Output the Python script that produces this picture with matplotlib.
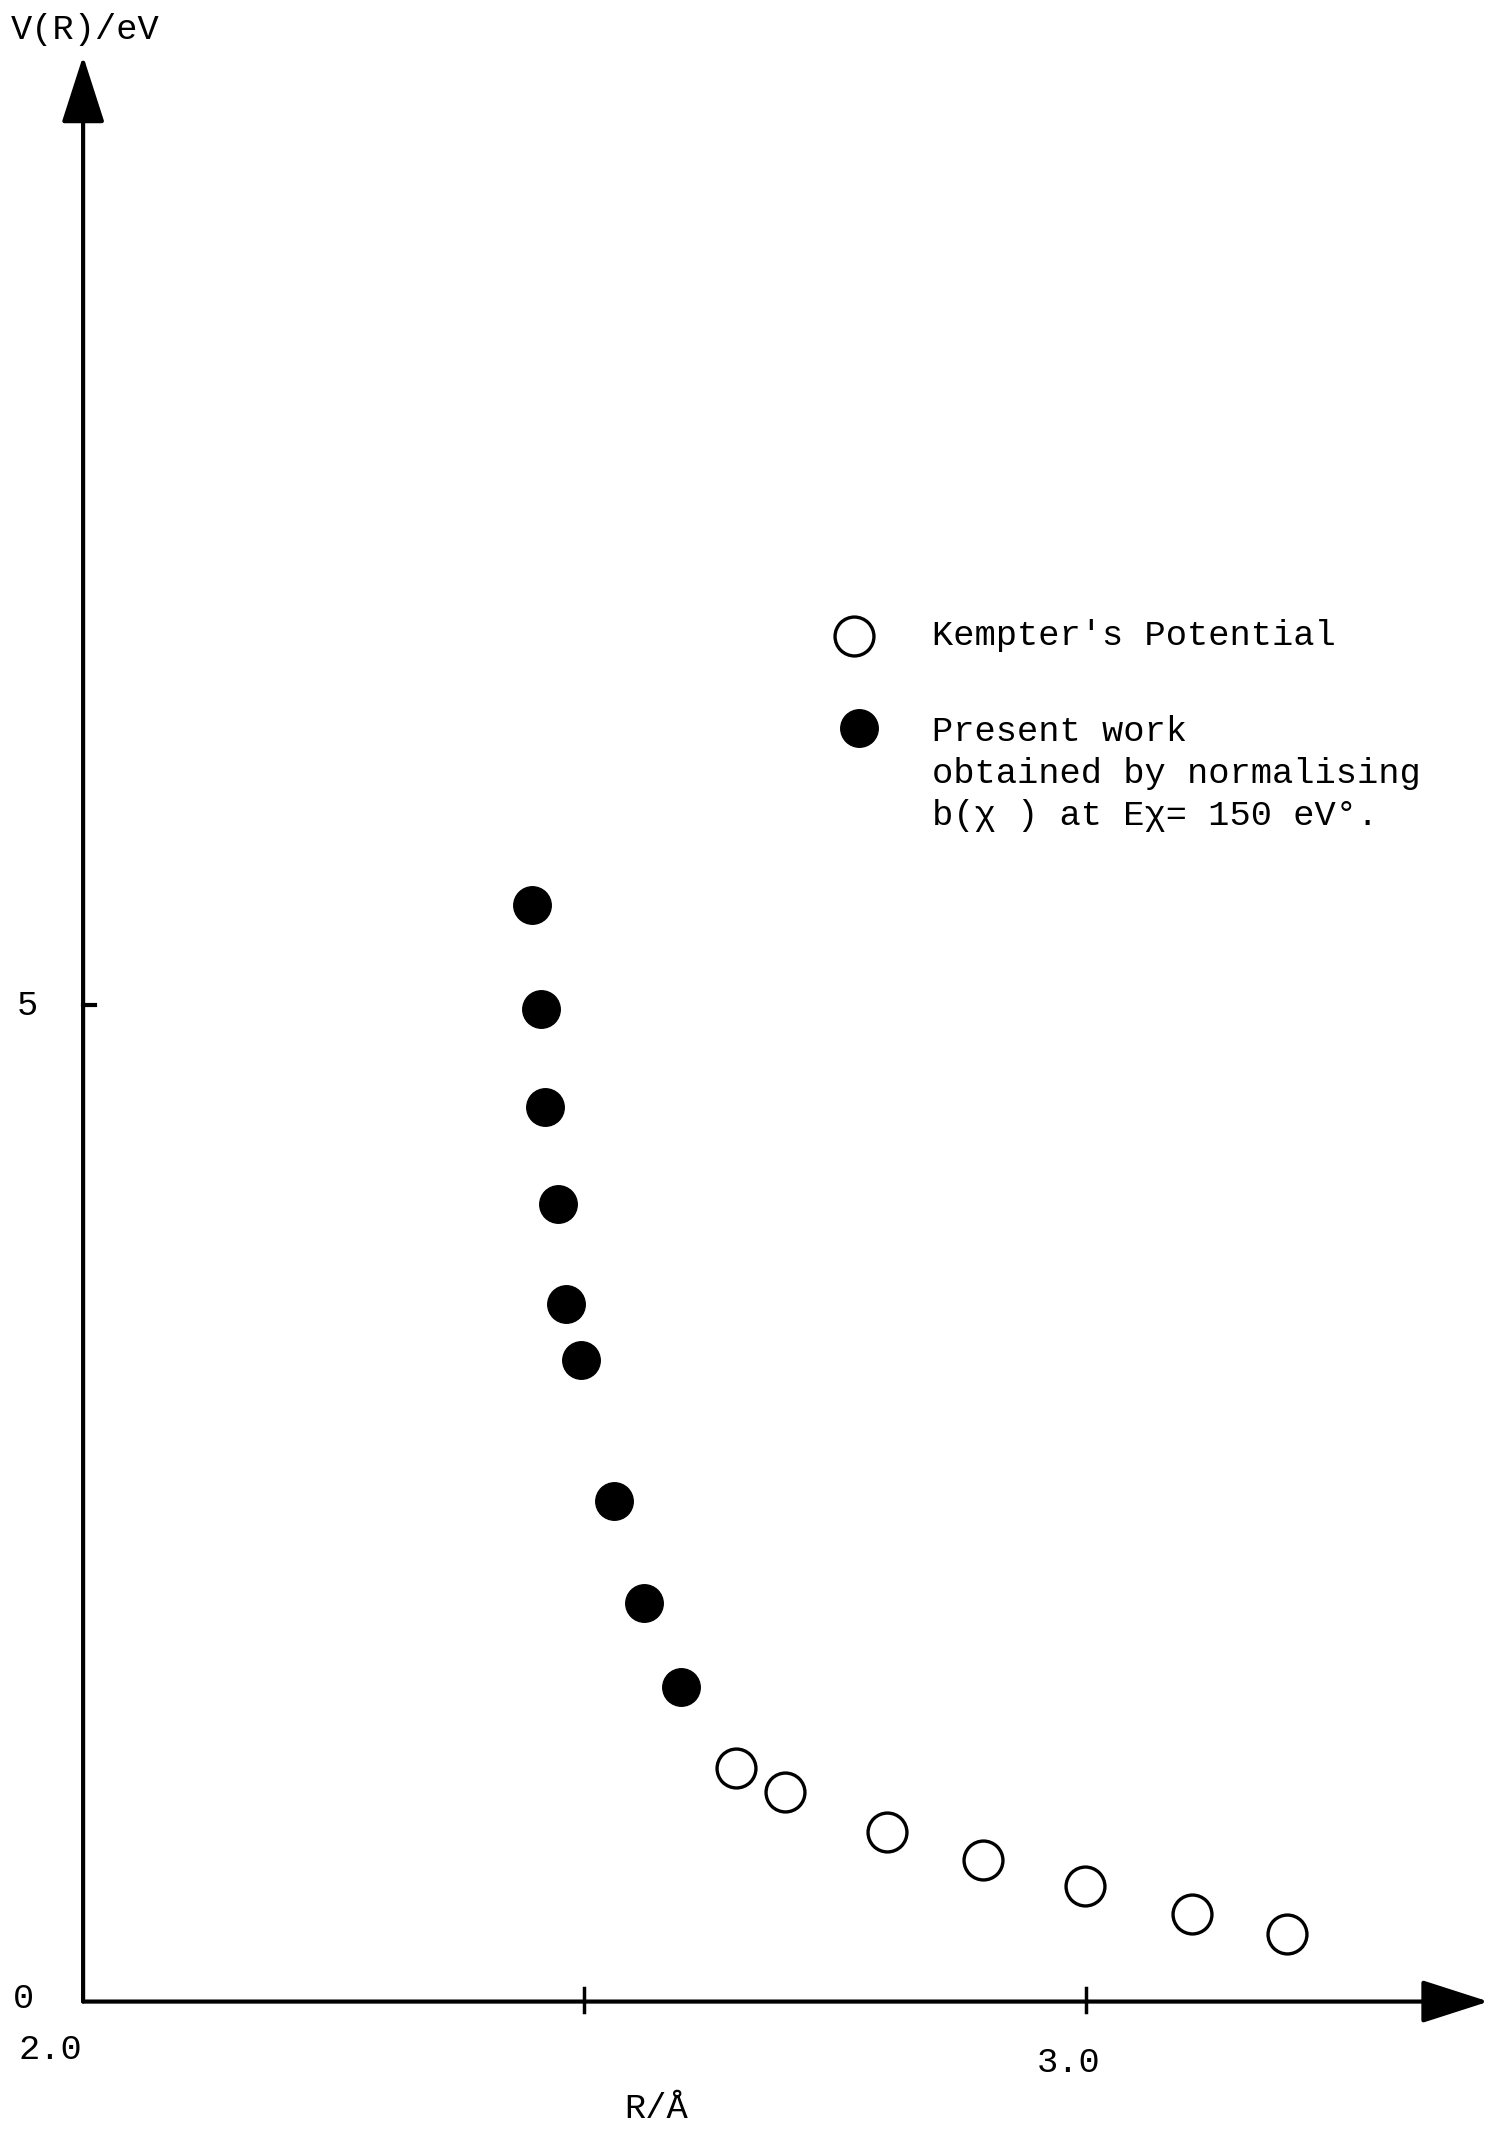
import matplotlib
matplotlib.use("Agg")
import matplotlib.pyplot as plt

plt.rcParams['font.family'] = ['Liberation Mono', 'DejaVu Sans Mono']

# present work (filled circles)
r_present = [2.448, 2.457, 2.461, 2.474, 2.482, 2.497, 2.530, 2.560, 2.596]
v_present = [5.50, 4.98, 4.49, 4.00, 3.50, 3.22, 2.51, 2.00, 1.58]

# Kempter's potential (open circles)
r_kempter = [2.651, 2.700, 2.802, 2.898, 2.999, 3.106, 3.201]
v_kempter = [1.17, 1.05, 0.85, 0.71, 0.58, 0.44, 0.34]

x_ticks = [2.0, 2.5, 3.0]
x_tick_labels = ["2.0", "", "3.0"]
y_ticks = [0, 5]

fig = plt.figure(figsize=(15.01, 21.35), dpi=100)
ax = fig.add_axes([0, 0, 1, 1])
ax.set_xlim(1.9171, 3.4144)
ax.set_ylim(-0.6694, 10.041)
ax.axis('off')

# axes drawn by hand with arrow heads
arrow = dict(arrowstyle='-|>,head_length=1.4,head_width=0.45', lw=3, color='black',
             shrinkA=0, shrinkB=0, mutation_scale=30)
ax.annotate('', xy=(2.0, 9.76), xytext=(2.0, 0), arrowprops=arrow)
ax.annotate('', xy=(3.402, 0), xytext=(2.0, 0), arrowprops=arrow)

# small tick marks
for xt in x_ticks[1:]:
    ax.plot([xt, xt], [-0.05, 0.07], color='black', lw=2.5)
ax.plot([2.0, 2.012], [y_ticks[1], y_ticks[1]], color='black', lw=3)

# data
ax.plot(r_present, v_present, 'o', color='black', ms=27, mec='black')
ax.plot(r_kempter, v_kempter, 'o', mfc='white', mec='black', ms=28, mew=2.4)

fs = 25.5
tr = ax.transAxes
ax.text(0.0073, 0.986, "V(R)/eV", fontsize=fs, ha='left', va='center', transform=tr)
ax.text(0.018, 0.529, "5", fontsize=fs, ha='center', va='center', transform=tr)
ax.text(0.0154, 0.0638, "0", fontsize=fs, ha='center', va='center', transform=tr)
ax.text(0.0336, 0.0402, x_tick_labels[0], fontsize=fs, ha='center', va='center', transform=tr)
ax.text(0.712, 0.0338, x_tick_labels[2], fontsize=fs, ha='center', va='center', transform=tr)
ax.text(0.437, 0.0125, "R/Å", fontsize=fs, ha='center', va='center', transform=tr)

# legend keys and text
ax.plot([0.569], [0.7022], 'o', mfc='white', mec='black', ms=28, mew=2.4, transform=tr)
ax.plot([0.5726], [0.6588], 'o', color='black', ms=27, transform=tr)
ax.text(0.6207, 0.7022, "Kempter's Potential", fontsize=fs, ha='left', va='center', transform=tr)
ax.text(0.6207, 0.6575, "Present work", fontsize=fs, ha='left', va='center', transform=tr)
ax.text(0.6207, 0.6378, "obtained by normalising", fontsize=fs, ha='left', va='center', transform=tr)
ax.text(0.6207, 0.6180, "b(χ ) at Eχ= 150 eV°.", fontsize=fs, ha='left', va='center', transform=tr)

fig.savefig("out.png", dpi=100)
